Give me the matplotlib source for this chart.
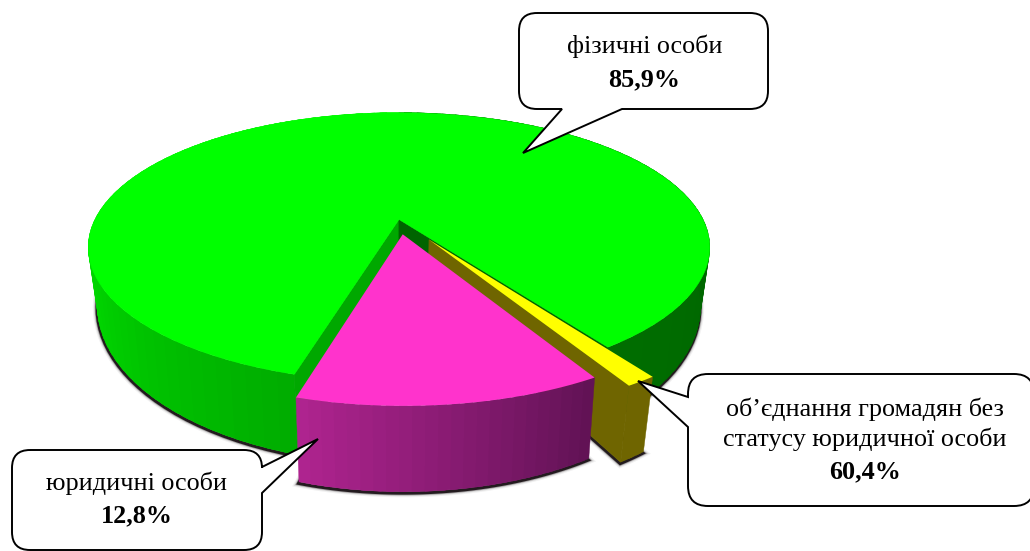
import numpy as np
import matplotlib
matplotlib.use("Agg")
import matplotlib.pyplot as plt
from matplotlib.patches import PathPatch, Polygon
from matplotlib.path import Path

# ---- data ----
categories = ["фізичні особи", "юридичні особи", "об’єднання громадян без\nстатусу юридичної особи"]
shares = [85.9, 12.8, 1.3]          # slice sizes (the third label's printed number differs from its slice)
printed_labels = ["85,9%", "12,8%", "60,4%"]

plt.rcParams["font.family"] = ["Liberation Serif", "DejaVu Serif"]

fig = plt.figure(figsize=(10.30, 5.51), dpi=100)
ax = fig.add_axes([0, 0, 1, 1])
ax.set_xlim(0, 1030)
ax.set_ylim(551, 0)
ax.axis("off")

# ---- perspective model of the pie ----
CX, K = 399.0, 0.207
TOP = dict(a=304.0, b=129.0, y0=219.5)
BOT = dict(a=295.0, b=151.0, y0=273.5)
BOT_YEL = dict(a=293.0, b=151.0, y0=267.5)


def project(x, y, lay):
    w = 1 - K * y
    return CX + lay["a"] * x / w, lay["y0"] + lay["b"] * y / w


def rim(th_deg, off, lay):
    t = np.radians(th_deg)
    return project(np.sin(t) + off[0], np.cos(t) + off[1], lay)


def arc(t0, t1, off, lay, n=120):
    ths = np.linspace(t0, t1, n)
    xs, ys = rim(ths, off, lay)
    return np.column_stack([xs, ys])


def mix(c0, c1, f):
    return tuple((a + (b - a) * f) / 255 for a, b in zip(c0, c1))


def poly(pts, color, z, lw=0.0):
    ax.add_patch(Polygon(pts, closed=True, facecolor=color, edgecolor=color if lw else "none",
                         lw=lw, zorder=z))


# angles measured from the front of the pie, positive toward the right
start = -16.0
spans = [s / sum(shares) * 360 for s in shares]
pink0, pink1 = start, start + spans[1]
yel0, yel1 = pink1, pink1 + spans[2]
grn0, grn1 = yel1, yel1 + spans[0]

off_green = (0.0, 0.0)
off_pink = (0.012, 0.112)
off_yel = (0.096, 0.152)

GREEN, PINK, YELLOW = "#00ff00", "#ff33cc", "#ffff00"
OLIVE = "#6f6500"

# ---- soft shadow under the solid ----
outlines = [
    arc(grn0, grn1, off_green, BOT),
    np.vstack([arc(pink0, pink1, off_pink, BOT), [project(*off_pink, BOT)]]),
    np.vstack([arc(yel0, yel1, off_yel, BOT_YEL), [project(*off_yel, BOT_YEL)]]),
]
for lw, alpha in [(6, .06), (4.4, .12), (3.2, .3), (2.2, .95)]:
    for pts in outlines:
        ax.add_patch(Polygon(pts + np.array([-0.5, 1.5]), closed=True, fill=False,
                             edgecolor="#1c1418", lw=lw, alpha=alpha, zorder=1))


def side(t0, t1, off, colfun, z, n=60, lay=BOT):
    """Outer wall as overlapping shaded strips, so no seam shows between them."""
    edges = np.linspace(t0, t1, n + 1)
    step = edges[1] - edges[0]
    for a in edges[:-1]:
        b = min(a + 1.6 * step, t1)
        top = arc(a, b, off, TOP, 6)
        bot = arc(a, b, off, lay, 6)
        poly(np.vstack([top, bot[::-1]]), colfun(a + 0.5 * step), z, lw=0.3)


# ---- green slice ----
def green_col(th):
    if th < 180:
        return mix((0, 110, 0), (0, 96, 0), (th - grn0) / 90)
    f = np.clip((360 + start - th) / 85, 0, 1)
    return mix((0, 172, 0), (0, 238, 0), f)


side(grn0, 180, off_green, green_col, 2, n=50)
side(180, grn1, off_green, green_col, 2, n=60)


def wall(th, off, color, z, lay=BOT):
    tp, bt = rim(th, off, TOP), rim(th, off, lay)
    ct, cb = project(*off, TOP), project(*off, lay)
    poly([ct, tp, bt, cb], color, z, lw=0.6)


wall(grn1, off_green, "#00a800", 3)
wall(grn0, off_green, "#006400", 3)
poly(np.vstack([[project(*off_green, TOP)], arc(grn0, grn1, off_green, TOP, 400)]), GREEN, 4, lw=0.3)

# ---- yellow slice ----
wall(yel0, off_yel, OLIVE, 5, BOT_YEL)
side(yel0, yel1, off_yel, lambda th: OLIVE, 5, n=3, lay=BOT_YEL)
poly(np.vstack([[project(*off_yel, TOP)], arc(yel0, yel1, off_yel, TOP, 10)]), YELLOW, 6)

# ---- pink slice ----
def pink_col(th):
    f = (th - pink0) / (pink1 - pink0)
    return mix((176, 36, 144), (96, 18, 84), f)


side(pink0, pink1, off_pink, pink_col, 7, n=24)
poly(np.vstack([[project(*off_pink, TOP)], arc(pink0, pink1, off_pink, TOP, 80)]), PINK, 8)


# ---- callouts ----
def bubble(x0, y0, x1, y1, r, tail, where):
    """Rounded box with a pointed tail, walked clockwise; the tail sits on the named side."""
    L, C = Path.LINETO, Path.CURVE3
    v, c = [(x0 + r, y0)], [Path.MOVETO]
    v += [(x1 - r, y0), (x1, y0), (x1, y0 + r)]
    c += [L, C, C]
    if where == "right":
        v += list(tail)
        c += [L] * 3
    v += [(x1, y1 - r), (x1, y1), (x1 - r, y1)]
    c += [L, C, C]
    if where == "bottom":
        v += list(tail)
        c += [L] * 3
    v += [(x0 + r, y1), (x0, y1), (x0, y1 - r)]
    c += [L, C, C]
    if where == "left":
        v += list(tail)
        c += [L] * 3
    v += [(x0, y0 + r), (x0, y0), (x0 + r, y0)]
    c += [L, C, C]
    ax.add_patch(PathPatch(Path(v, c), facecolor="white", edgecolor="black", lw=1.4,
                           joinstyle="miter", zorder=10))


bubble(519, 13, 768, 109, 18, ((622, 109), (523, 153), (562, 109)), "bottom")
bubble(12, 450, 262, 550, 18, ((262, 467), (318, 439), (262, 493)), "right")
bubble(688, 374, 1034, 506, 20, ((688, 427), (638, 381), (688, 397)), "left")

FS = 18.8


def label(cx, ys, name, value):
    lines = name.split("\n")
    for line, y in zip(lines, ys):
        ax.text(cx, y, line, ha="center", va="baseline", fontsize=FS, zorder=11)
    ax.text(cx, ys[len(lines)], value, ha="center", va="baseline", fontsize=FS,
            fontweight="bold", zorder=11)


label(644.5, [53, 86], categories[0], printed_labels[0])
label(137, [490, 522], categories[1], printed_labels[1])
label(865, [416, 446, 478], categories[2], printed_labels[2])

fig.savefig("out.png", dpi=100)
